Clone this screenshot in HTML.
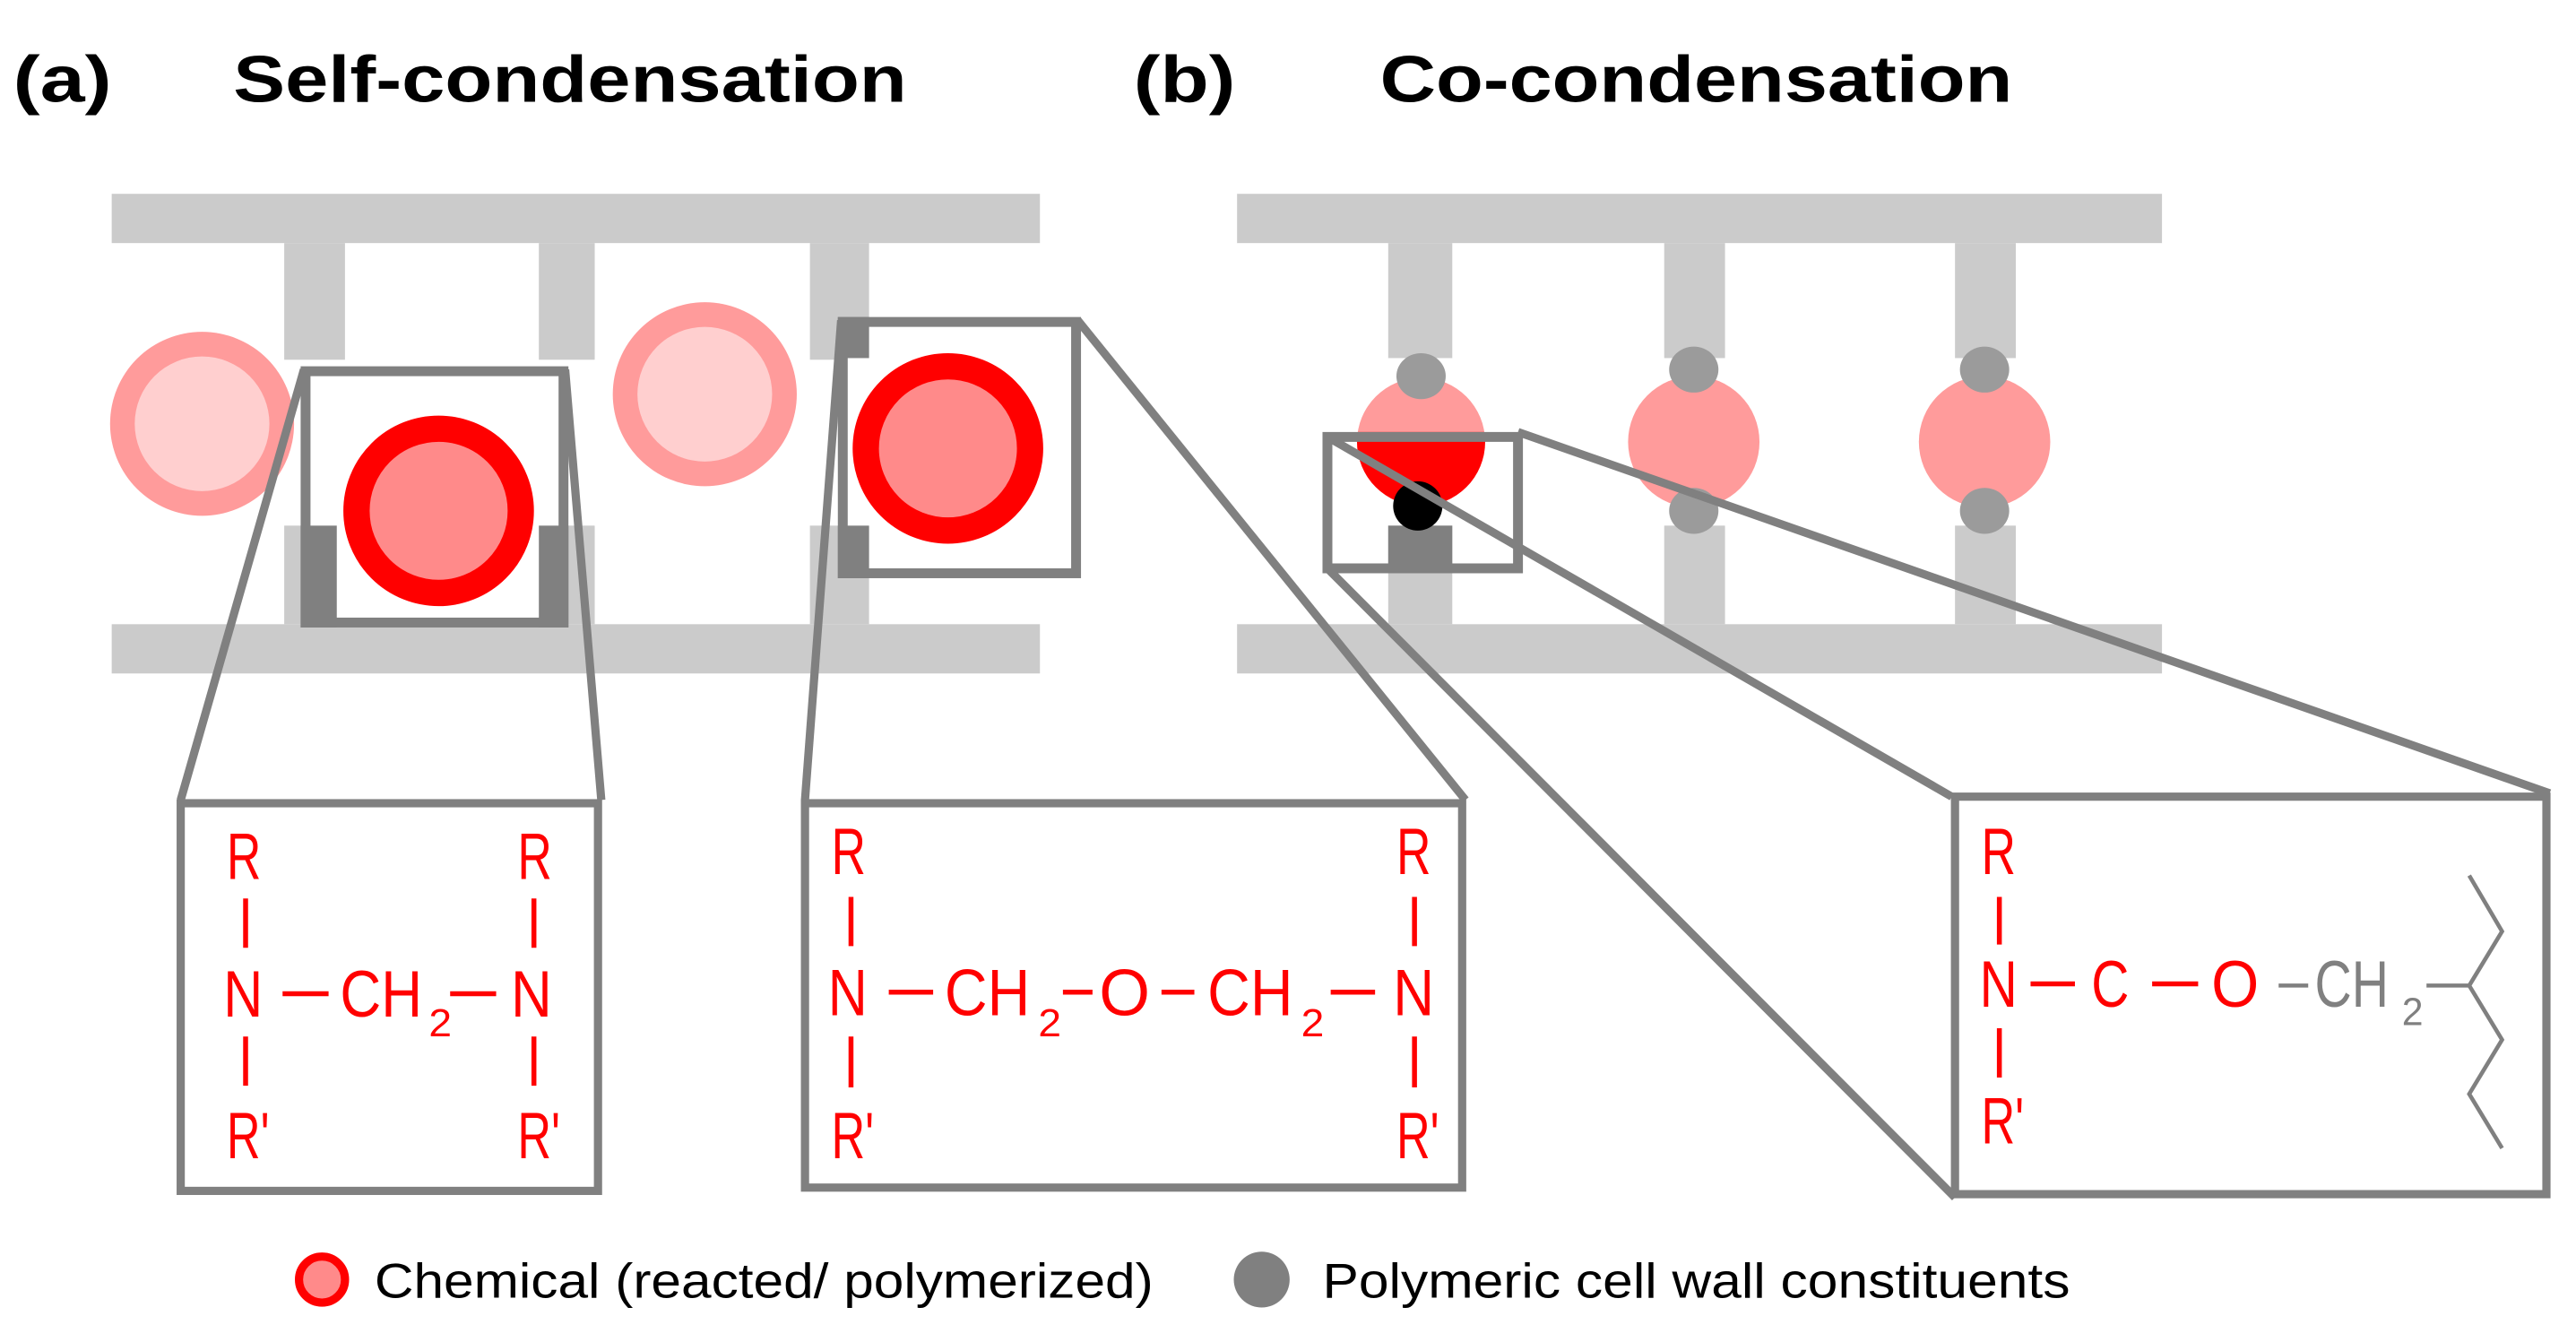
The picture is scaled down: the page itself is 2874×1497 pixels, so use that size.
<!DOCTYPE html>
<html><head><meta charset="utf-8"><style>html,body{margin:0;padding:0;background:#fff;}svg{display:block}</style></head>
<body>
<svg width="2874" height="1497" viewBox="0 0 1568 817" preserveAspectRatio="none" xmlns="http://www.w3.org/2000/svg">
<defs><clipPath id="cb"><rect x="805" y="263" width="119" height="83"/></clipPath></defs>
<g font-family="Liberation Sans, sans-serif">
<!-- titles -->
<text x="8" y="62" font-size="40" font-weight="bold" textLength="60" lengthAdjust="spacingAndGlyphs">(a)</text>
<text x="142" y="62" font-size="40" font-weight="bold" textLength="410" lengthAdjust="spacingAndGlyphs">Self-condensation</text>
<text x="690" y="62" font-size="40" font-weight="bold" textLength="62" lengthAdjust="spacingAndGlyphs">(b)</text>
<text x="840" y="62" font-size="40" font-weight="bold" textLength="385" lengthAdjust="spacingAndGlyphs">Co-condensation</text>

<!-- left panel structure -->
<g fill="#cbcbcb">
<rect x="68" y="118" width="565" height="30"/><rect x="68" y="380" width="565" height="30"/>
<rect x="173" y="148" width="37" height="71"/><rect x="328" y="148" width="34" height="71"/><rect x="493" y="148" width="36" height="71"/>
<rect x="173" y="320" width="37" height="60"/><rect x="328" y="320" width="34" height="60"/><rect x="493" y="320" width="36" height="60"/>
</g>
<circle cx="123" cy="258" r="56" fill="#ff9b9b"/><circle cx="123" cy="258" r="41" fill="#ffcfcf"/>
<circle cx="429" cy="240" r="56" fill="#ff9b9b"/><circle cx="429" cy="240" r="41" fill="#ffcfcf"/>
<!-- box1 -->
<rect x="186" y="226" width="157" height="153" fill="#fff" stroke="#808080" stroke-width="6"/>
<rect x="183" y="320" width="22" height="62" fill="#808080"/><rect x="328" y="320" width="18" height="62" fill="#808080"/>
<circle cx="267" cy="311" r="50" fill="#ff8a8a" stroke="#ff0000" stroke-width="16"/>
<!-- box2 -->
<rect x="513" y="196" width="142" height="153" fill="#fff" stroke="#808080" stroke-width="6"/>
<rect x="510" y="193" width="19" height="25" fill="#808080"/><rect x="510" y="320" width="19" height="32" fill="#808080"/>
<circle cx="577" cy="273" r="50" fill="#ff8a8a" stroke="#ff0000" stroke-width="16"/>

<!-- right panel -->
<g fill="#cbcbcb">
<rect x="753" y="118" width="563" height="30"/><rect x="753" y="380" width="563" height="30"/>
<rect x="845" y="148" width="39" height="70"/><rect x="1013" y="148" width="37" height="70"/><rect x="1190" y="148" width="37" height="70"/>
<rect x="845" y="320" width="39" height="60"/><rect x="1013" y="320" width="37" height="60"/><rect x="1190" y="320" width="37" height="60"/>
</g>
<circle cx="865" cy="269" r="39" fill="#ff9b9b"/>
<circle cx="1031" cy="269" r="40" fill="#ff9b9b"/>
<circle cx="1208" cy="269" r="40" fill="#ff9b9b"/>
<circle cx="865" cy="269" r="39" fill="#ff0000" clip-path="url(#cb)"/>
<ellipse cx="865" cy="229" rx="15" ry="14" fill="#9b9b9b"/>
<ellipse cx="1031" cy="225" rx="15" ry="14" fill="#9b9b9b"/>
<ellipse cx="1208" cy="225" rx="15" ry="14" fill="#9b9b9b"/>
<ellipse cx="1031" cy="311" rx="15" ry="14" fill="#9b9b9b"/>
<ellipse cx="1208" cy="311" rx="15" ry="14" fill="#9b9b9b"/>
<rect x="845" y="320" width="39" height="26" fill="#808080"/>
<ellipse cx="863" cy="308" rx="15" ry="15" fill="#000"/>
<rect x="808" y="266" width="116" height="80" fill="none" stroke="#808080" stroke-width="6"/>

<!-- connector lines -->
<g stroke="#808080" stroke-width="5" fill="none">
<line x1="185" y1="225" x2="110" y2="487"/><line x1="344" y1="225" x2="366" y2="487"/>
<line x1="512" y1="195" x2="490" y2="487"/><line x1="656" y1="195" x2="892" y2="487"/>
<line x1="808" y1="266" x2="1188" y2="485"/><line x1="924" y1="263" x2="1552" y2="483"/>
<line x1="808" y1="346" x2="1190" y2="729"/>
</g>

<!-- big boxes -->
<rect x="110" y="489" width="254" height="236" fill="#fff" stroke="#808080" stroke-width="5"/>
<rect x="490" y="489" width="400" height="234" fill="#fff" stroke="#808080" stroke-width="5"/>
<rect x="1190" y="485" width="360" height="242" fill="#fff" stroke="#808080" stroke-width="5"/>

<!-- box A chemistry -->
<g fill="#ff0000" font-size="40">
<text x="138" y="535" textLength="21" lengthAdjust="spacingAndGlyphs">R</text>
<text x="315" y="535" textLength="21" lengthAdjust="spacingAndGlyphs">R</text>
<text x="136" y="619" textLength="24" lengthAdjust="spacingAndGlyphs">N</text>
<text x="207" y="619" textLength="50" lengthAdjust="spacingAndGlyphs">CH</text>
<text x="261" y="631" font-size="24" textLength="14" lengthAdjust="spacingAndGlyphs">2</text>
<text x="311" y="619" textLength="25" lengthAdjust="spacingAndGlyphs">N</text>
<text x="138" y="705" textLength="26" lengthAdjust="spacingAndGlyphs">R'</text>
<text x="315" y="705" textLength="26" lengthAdjust="spacingAndGlyphs">R'</text>
</g>
<g stroke="#ff0000" stroke-width="3" fill="none">
<line x1="149.5" y1="547" x2="149.5" y2="577"/><line x1="149.5" y1="631" x2="149.5" y2="661"/>
<line x1="325" y1="547" x2="325" y2="577"/><line x1="325" y1="631" x2="325" y2="661"/>
<line x1="172" y1="605" x2="200" y2="605"/><line x1="274" y1="605" x2="302" y2="605"/>
</g>

<!-- box B chemistry -->
<g fill="#ff0000" font-size="40">
<text x="506" y="532" textLength="21" lengthAdjust="spacingAndGlyphs">R</text>
<text x="850" y="532" textLength="21" lengthAdjust="spacingAndGlyphs">R</text>
<text x="504" y="618" textLength="24" lengthAdjust="spacingAndGlyphs">N</text>
<text x="575" y="618" textLength="52" lengthAdjust="spacingAndGlyphs">CH</text>
<text x="632" y="631" font-size="24" textLength="14" lengthAdjust="spacingAndGlyphs">2</text>
<text x="669" y="618" textLength="31" lengthAdjust="spacingAndGlyphs">O</text>
<text x="735" y="618" textLength="52" lengthAdjust="spacingAndGlyphs">CH</text>
<text x="792" y="631" font-size="24" textLength="14" lengthAdjust="spacingAndGlyphs">2</text>
<text x="848" y="618" textLength="25" lengthAdjust="spacingAndGlyphs">N</text>
<text x="506" y="705" textLength="26" lengthAdjust="spacingAndGlyphs">R'</text>
<text x="850" y="705" textLength="26" lengthAdjust="spacingAndGlyphs">R'</text>
</g>
<g stroke="#ff0000" stroke-width="3" fill="none">
<line x1="518" y1="546" x2="518" y2="576"/><line x1="518" y1="631" x2="518" y2="662"/>
<line x1="861" y1="546" x2="861" y2="576"/><line x1="861" y1="631" x2="861" y2="662"/>
<line x1="541" y1="604" x2="568" y2="604"/><line x1="647" y1="604" x2="665" y2="604"/>
<line x1="707" y1="604" x2="727" y2="604"/><line x1="810" y1="604" x2="837" y2="604"/>
</g>

<!-- box C chemistry -->
<g fill="#ff0000" font-size="40">
<text x="1206" y="532" textLength="21" lengthAdjust="spacingAndGlyphs">R</text>
<text x="1205" y="613" textLength="23" lengthAdjust="spacingAndGlyphs">N</text>
<text x="1273" y="613" textLength="23" lengthAdjust="spacingAndGlyphs">C</text>
<text x="1346" y="613" textLength="29" lengthAdjust="spacingAndGlyphs">O</text>
<text x="1206" y="696" textLength="26" lengthAdjust="spacingAndGlyphs">R'</text>
</g>
<g stroke="#ff0000" stroke-width="3" fill="none">
<line x1="1217" y1="546" x2="1217" y2="575"/><line x1="1217" y1="626" x2="1217" y2="656"/>
<line x1="1236" y1="599" x2="1263" y2="599"/><line x1="1310" y1="599" x2="1338" y2="599"/>
</g>
<g fill="#808080" font-size="40">
<text x="1409" y="613" textLength="45" lengthAdjust="spacingAndGlyphs">CH</text>
<text x="1462" y="624" font-size="24" textLength="13" lengthAdjust="spacingAndGlyphs">2</text>
</g>
<g stroke="#808080" stroke-width="2.5" fill="none">
<line x1="1387" y1="600" x2="1405" y2="600"/>
<line x1="1477" y1="600" x2="1503" y2="600"/>
<polyline points="1503,533 1523,567 1503,600 1523,633 1503,666 1523,699"/>
</g>

<!-- legend -->
<circle cx="196" cy="779" r="14" fill="#ff8a8a" stroke="#ff0000" stroke-width="5"/>
<text x="228" y="790" font-size="30" textLength="474" lengthAdjust="spacingAndGlyphs">Chemical (reacted/ polymerized)</text>
<circle cx="768" cy="779" r="17" fill="#808080"/>
<text x="805" y="790" font-size="30" textLength="455" lengthAdjust="spacingAndGlyphs">Polymeric cell wall constituents</text>
</g>
</svg>
</body></html>
